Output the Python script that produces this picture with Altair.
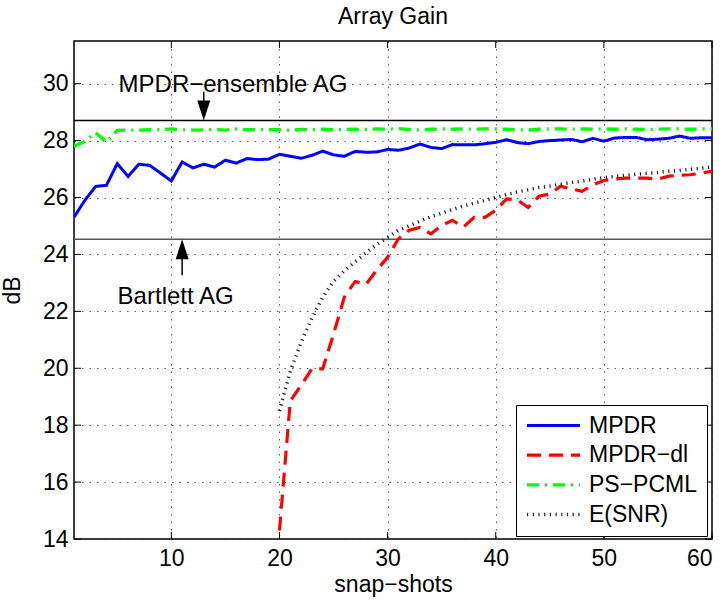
import altair as alt
import pandas as pd

FONT = "Liberation Sans"

x_all = list(range(1, 61))
mpdr = [25.31, 25.9, 26.39, 26.43, 27.19, 26.74, 27.17, 27.13, 26.86, 26.58,
        27.25, 27.04, 27.17, 27.07, 27.31, 27.21, 27.37, 27.33, 27.35, 27.52,
        27.45, 27.38, 27.48, 27.63, 27.5, 27.45, 27.62, 27.59, 27.6, 27.69,
        27.66, 27.74, 27.88, 27.76, 27.72, 27.86, 27.85, 27.85, 27.89, 27.94,
        28.03, 27.93, 27.89, 27.97, 28.0, 28.02, 28.04, 27.96, 28.08, 27.98,
        28.09, 28.11, 28.11, 28.03, 28.05, 28.08, 28.16, 28.08, 28.1, 28.1]
pspcml = [27.8, 27.97, 28.28, 27.95, 28.36, 28.37, 28.37, 28.38, 28.38, 28.41,
          28.38, 28.37, 28.38, 28.39, 28.37, 28.41, 28.38, 28.39, 28.38, 28.38,
          28.36, 28.39, 28.38, 28.40, 28.38, 28.39, 28.40, 28.39, 28.41, 28.40,
          28.42, 28.39, 28.37, 28.40, 28.41, 28.40, 28.41, 28.40, 28.41, 28.41,
          28.40, 28.38, 28.37, 28.40, 28.41, 28.41, 28.40, 28.41, 28.40, 28.41,
          28.40, 28.41, 28.40, 28.39, 28.40, 28.41, 28.41, 28.40, 28.41, 28.41]
x_late = list(range(20, 61))
mpdr_dl = [14.3, 18.85, 19.4, 19.98, 19.98, 21.2, 22.5, 23.05, 22.95, 23.45,
           23.9, 24.55, 24.85, 24.95, 24.72, 25.02, 25.2, 24.96, 25.3, 25.3,
           25.55, 25.95, 25.92, 25.65, 26.05, 26.12, 26.4, 26.3, 26.22, 26.45,
           26.6, 26.65, 26.68, 26.68, 26.68, 26.65, 26.75, 26.78, 26.8, 26.85,
           26.93]
esnr = [18.5, 19.9, 20.9, 21.76, 22.5, 23.05, 23.42, 23.75, 24.05, 24.35,
        24.6, 24.85, 25.0, 25.17, 25.32, 25.45, 25.58, 25.7, 25.8, 25.9,
        26.0, 26.1, 26.2, 26.27, 26.35, 26.4, 26.47, 26.53, 26.58, 26.64,
        26.7, 26.74, 26.78, 26.82, 26.85, 26.88, 26.92, 26.95, 26.99, 27.03,
        27.07]

series_names = ["MPDR", "MPDR\u2212dl", "PS\u2212PCML", "E(SNR)"]
series_colors = ["#0000ff", "#ff0000", "#00ff00", "#222222"]
series_dash = [[1, 0], [14, 8], [12, 6, 2, 6], [1.2, 4.5]]
series_width = [3, 3.5, 3.5, 1.3]

ensemble_ag = 28.71
bartlett_ag = 24.53

x_ticks = [10, 20, 30, 40, 50, 60]
y_ticks = [14, 16, 18, 20, 22, 24, 26, 28, 30]

rows = []
for xv, yv in zip(x_all, mpdr):
    rows.append({"x": xv, "y": yv, "s": series_names[0]})
for xv, yv in zip(x_late, mpdr_dl):
    rows.append({"x": xv, "y": yv, "s": series_names[1]})
for xv, yv in zip(x_all, pspcml):
    rows.append({"x": xv, "y": yv, "s": series_names[2]})
for xv, yv in zip(x_late, esnr):
    rows.append({"x": xv, "y": yv, "s": series_names[3]})
df = pd.DataFrame(rows)

W, H = 638, 498
xs = alt.Scale(domain=[1, 60], nice=False, zero=False)
ys = alt.Scale(domain=[14, 31.5], nice=False, zero=False)

xaxis = alt.Axis(values=x_ticks, title="snap\u2212shots", grid=True, ticks=False,
                 domain=False, labelPadding=8, titlePadding=3)
yaxis = alt.Axis(values=y_ticks, title="dB", grid=True, ticks=False,
                 domain=False, labelPadding=6, titleX=-62, titleY=H / 2,
                 titleBaseline="middle")

legend = alt.Legend(title=None, orient="none", legendX=442, legendY=364,
                    symbolType="stroke", symbolSize=2809)

lines = alt.Chart(df).mark_line(clip=True, strokeCap="butt").encode(
    x=alt.X("x:Q", scale=xs, axis=xaxis),
    y=alt.Y("y:Q", scale=ys, axis=yaxis),
    color=alt.Color("s:N", scale=alt.Scale(domain=series_names, range=series_colors), legend=legend),
    strokeDash=alt.StrokeDash("s:N", scale=alt.Scale(domain=series_names, range=series_dash), legend=legend),
    strokeWidth=alt.StrokeWidth("s:N", scale=alt.Scale(domain=series_names, range=series_width), legend=legend),
    order="x:Q",
)

hl = pd.DataFrame({"y": [ensemble_ag, bartlett_ag], "c": ["#000000", "#555555"]})
hlines = alt.Chart(hl).mark_rule(strokeWidth=1.5).encode(
    y=alt.Y("y:Q", scale=ys), color=alt.Color("c:N", scale=None)
)

# annotations
ann_text = pd.DataFrame({"x": [15.7, 10.4], "y": [29.95, 22.5],
                         "t": ["MPDR\u2212ensemble AG", "Bartlett AG"]})
texts = alt.Chart(ann_text).mark_text(font=FONT, fontSize=24, baseline="middle",
                                      align="center", color="black").encode(
    x=alt.X("x:Q", scale=xs), y=alt.Y("y:Q", scale=ys), text="t:N")

shafts = pd.DataFrame({"x": [13, 11], "y": [29.72, 23.27], "y2": [28.9, 24.3]})
shaft = alt.Chart(shafts).mark_rule(strokeWidth=1.5, color="black").encode(
    x=alt.X("x:Q", scale=xs), y=alt.Y("y:Q", scale=ys), y2="y2:Q")

head_dn = alt.Chart(pd.DataFrame({"x": [13], "y": [ensemble_ag]})).mark_point(
    shape="M-0.65,-2L0.65,-2L0,0Z", size=400, filled=True, color="black", opacity=1
).encode(x=alt.X("x:Q", scale=xs), y=alt.Y("y:Q", scale=ys))
head_up = alt.Chart(pd.DataFrame({"x": [11], "y": [bartlett_ag]})).mark_point(
    shape="M-0.65,2L0.65,2L0,0Z", size=400, filled=True, color="black", opacity=1
).encode(x=alt.X("x:Q", scale=xs), y=alt.Y("y:Q", scale=ys))

# inside tick marks on all four sides
xt = pd.DataFrame({"v": x_ticks})
yt = pd.DataFrame({"v": y_ticks})
tb = alt.Chart(xt).mark_rule(color="black", strokeWidth=1).encode(
    x=alt.X("v:Q", scale=xs), y=alt.value(H), y2=alt.value(H - 7))
tt = alt.Chart(xt).mark_rule(color="black", strokeWidth=1).encode(
    x=alt.X("v:Q", scale=xs), y=alt.value(0), y2=alt.value(7))
tl = alt.Chart(yt).mark_rule(color="black", strokeWidth=1).encode(
    y=alt.Y("v:Q", scale=ys), x=alt.value(0), x2=alt.value(7))
tr = alt.Chart(yt).mark_rule(color="black", strokeWidth=1).encode(
    y=alt.Y("v:Q", scale=ys), x=alt.value(W), x2=alt.value(W - 7))

chart = alt.layer(hlines, lines, texts, shaft, head_dn, head_up, tb, tt, tl, tr).properties(
    width=W, height=H,
    title=alt.TitleParams("Array Gain", font=FONT, fontSize=23, fontWeight="normal",
                          color="black", offset=12),
    autosize="none",
    padding={"left": 74, "top": 41, "right": 15, "bottom": 62},
    background="white",
).configure_view(stroke="black", strokeWidth=1.5).configure_axis(
    labelFont=FONT, labelFontSize=23, labelColor="black",
    titleFont=FONT, titleFontSize=23, titleColor="black", titleFontWeight="normal",
    gridColor="#333333", gridDash=[1.5, 6], gridWidth=1, gridOpacity=0.8,
).configure_legend(
    labelFont=FONT, labelFontSize=23, labelColor="black",
    strokeColor="black", fillColor="white", padding=9, rowPadding=5.7,
    clipHeight=23, labelOffset=7, labelLimit=400, cornerRadius=0,
    symbolStrokeColor="black",
)

chart.save("out.html", embed_options={"renderer": "svg", "actions": False})
